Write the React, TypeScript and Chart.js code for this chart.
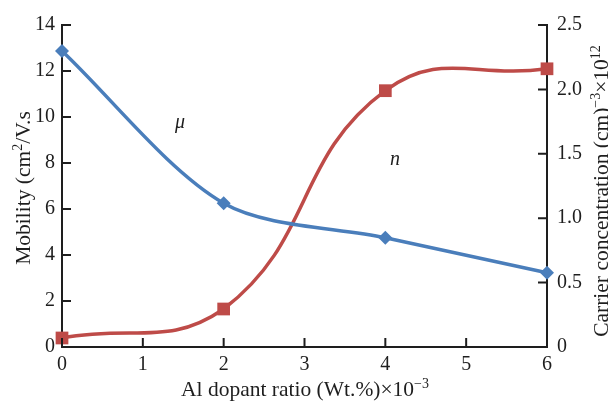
import { useEffect, useRef } from 'react';
import { Chart, registerables } from 'chart.js';
Chart.register(...registerables);

const xValues = [0, 2, 4, 6];
const mobility = [12.87, 6.25, 4.75, 3.23];
const carrier = [0.07, 0.295, 1.99, 2.16];
const xTicks = [0, 1, 2, 3, 4, 5, 6];
const leftTicks = [0, 2, 4, 6, 8, 10, 12, 14];
const rightTicks = [0, 0.5, 1.0, 1.5, 2.0, 2.5];
const xTitle = [{ t: 'Al dopant ratio (Wt.%)×10' }, { t: '−3', sup: true }];
const leftTitle = [{ t: 'Mobility (cm' }, { t: '2', sup: true }, { t: '/V.s' }];
const rightTitle = [{ t: 'Carrier concentration (cm)' }, { t: '−3', sup: true }, { t: '×10' }, { t: '12', sup: true }];
const labelMu = { text: 'μ', x: 1.46, y: 9.74 };
const labelN = { text: 'n', x: 4.12, y: 8.13 };

const FONT = '"Liberation Serif", "DejaVu Serif", serif';
const INK = '#1e1e1e';

type Seg = { t: string; sup?: boolean };

function drawRich(ctx: CanvasRenderingContext2D, segs: Seg[], cx: number, by: number, rot: number, size: number) {
  const supSize = Math.round(size * 0.66);
  let total = 0;
  const widths = segs.map((s) => {
    ctx.font = `${s.sup ? supSize : size}px ${FONT}`;
    const w = ctx.measureText(s.t).width;
    total += w;
    return w;
  });
  ctx.save();
  ctx.translate(cx, by);
  ctx.rotate(rot);
  ctx.fillStyle = INK;
  ctx.textBaseline = 'alphabetic';
  ctx.textAlign = 'left';
  let x = -total / 2;
  segs.forEach((s, i) => {
    ctx.font = `${s.sup ? supSize : size}px ${FONT}`;
    ctx.fillText(s.t, x, s.sup ? -size * 0.36 : 0);
    x += widths[i];
  });
  ctx.restore();
}

const decorPlugin = {
  id: 'decor',
  afterDraw(chart: any) {
    const ctx: CanvasRenderingContext2D = chart.ctx;
    const xs = chart.scales.x;
    const yl = chart.scales.y;
    const yr = chart.scales.y1;
    const area = chart.chartArea;
    ctx.save();
    ctx.strokeStyle = INK;
    ctx.lineWidth = 2;
    ctx.beginPath();
    xTicks.forEach((v) => {
      const p = xs.getPixelForValue(v);
      ctx.moveTo(p, area.bottom);
      ctx.lineTo(p, area.bottom - 9);
    });
    leftTicks.forEach((v) => {
      const p = yl.getPixelForValue(v);
      ctx.moveTo(area.left, p);
      ctx.lineTo(area.left + 9, p);
    });
    rightTicks.forEach((v) => {
      const p = yr.getPixelForValue(v);
      ctx.moveTo(area.right, p);
      ctx.lineTo(area.right - 9, p);
    });
    ctx.stroke();
    ctx.restore();

    drawRich(ctx, xTitle, 305, 396, 0, 21.5);
    drawRich(ctx, leftTitle, 30, 188, -Math.PI / 2, 21.5);
    drawRich(ctx, rightTitle, 608, 191, -Math.PI / 2, 21.5);

    ctx.save();
    ctx.fillStyle = INK;
    ctx.font = `italic 20px ${FONT}`;
    ctx.textAlign = 'center';
    ctx.textBaseline = 'middle';
    [labelMu, labelN].forEach((l) => {
      ctx.fillText(l.text, xs.getPixelForValue(l.x), yl.getPixelForValue(l.y));
    });
    ctx.restore();
  },
};

export default function App() {
  const ref = useRef<HTMLCanvasElement>(null);
  useEffect(() => {
    document.body.style.margin = '0';
    const canvas = ref.current!;
    const tickFont = { family: FONT, size: 20 };
    const chart = new Chart(canvas, {
      type: 'line',
      data: {
        datasets: [
          {
            label: 'μ',
            data: xValues.map((x, i) => ({ x, y: mobility[i] })),
            yAxisID: 'y',
            borderColor: '#4A7EBB',
            backgroundColor: '#4A7EBB',
            borderWidth: 3.5,
            pointStyle: 'rectRot',
            pointRadius: 7,
            pointBorderWidth: 0,
            tension: 0.3,
            clip: false as any,
          },
          {
            label: 'n',
            data: xValues.map((x, i) => ({ x, y: carrier[i] })),
            yAxisID: 'y1',
            borderColor: '#BE4B48',
            backgroundColor: '#BE4B48',
            borderWidth: 3.5,
            pointStyle: 'rect',
            pointRadius: 9,
            pointBorderWidth: 0,
            tension: 0.45,
            clip: false as any,
          },
        ],
      },
      options: {
        animation: false,
        responsive: false,
        devicePixelRatio: 1,
        layout: { padding: { top: 25, left: 0, right: 0, bottom: 0 } },
        plugins: { legend: { display: false }, tooltip: { enabled: false } },
        scales: {
          x: {
            type: 'linear',
            min: 0,
            max: 6,
            afterBuildTicks: (s: any) => { s.ticks = xTicks.map((v) => ({ value: v })); },
            ticks: { font: tickFont, color: INK, padding: 6, callback: (v: any) => String(v) },
            grid: { display: false, drawTicks: false },
            border: { display: true, color: INK, width: 2 },
            afterFit: (s: any) => { s.height = 56; },
          },
          y: {
            type: 'linear',
            position: 'left',
            min: 0,
            max: 14,
            afterBuildTicks: (s: any) => { s.ticks = leftTicks.map((v) => ({ value: v })); },
            ticks: { font: tickFont, color: INK, padding: 7, callback: (v: any) => String(v) },
            grid: { display: false, drawTicks: false },
            border: { display: true, color: INK, width: 2 },
            afterFit: (s: any) => { s.width = 62; },
          },
          y1: {
            type: 'linear',
            position: 'right',
            min: 0,
            max: 2.5,
            afterBuildTicks: (s: any) => { s.ticks = rightTicks.map((v) => ({ value: v })); },
            ticks: { font: tickFont, color: INK, padding: 10, callback: (v: any) => (v === 0 ? '0' : Number(v).toFixed(1)) },
            grid: { display: false, drawTicks: false },
            border: { display: true, color: INK, width: 2 },
            afterFit: (s: any) => { s.width = 61; },
          },
        },
      } as any,
      plugins: [decorPlugin],
    });
    return () => chart.destroy();
  }, []);
  return <canvas ref={ref} width={608} height={403} style={{ display: 'block' }} />;
}
